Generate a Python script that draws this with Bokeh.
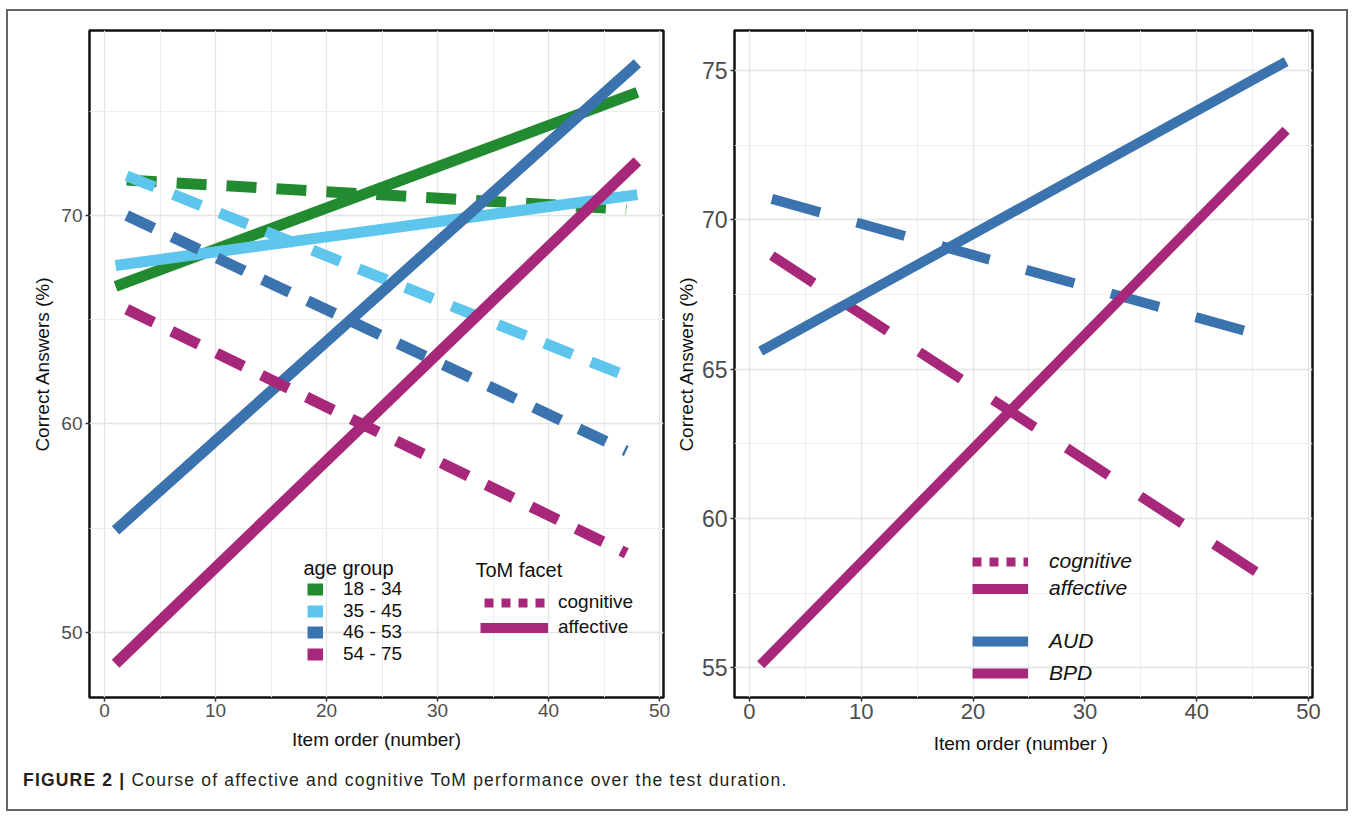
from bokeh.plotting import figure
from bokeh.models import Legend, LegendItem, FixedTicker, Div, Label, Range1d
from bokeh.layouts import row, column
from bokeh.embed import file_html
from bokeh.resources import INLINE

FONT = "Liberation Sans"

# ---------------- data: left panel (age group x ToM facet) ----------------
item_x_affective = [1, 48]
item_x_cognitive = [2, 47]
age_labels = ["18 - 34", "35 - 45", "46 - 53", "54 - 75"]
age_colors = ["#238B2F", "#5EC6EC", "#3B73AE", "#A7287A"]
aff_18_34 = [66.6, 75.9]
aff_35_45 = [67.6, 71.0]
aff_46_53 = [54.9, 77.3]
aff_54_75 = [48.5, 72.6]
cog_18_34 = [71.7, 70.3]
cog_35_45 = [71.9, 62.3]
cog_46_53 = [70.0, 58.7]
cog_54_75 = [65.5, 53.8]
facet_labels = ["cognitive", "affective"]

# ---------------- data: right panel (AUD / BPD x ToM facet) ----------------
group_labels = ["AUD", "BPD"]
group_colors = ["#3B73AE", "#A7287A"]
aff_AUD = [65.6, 75.3]
aff_BPD = [55.1, 73.0]
cog_AUD = [70.7, 66.0]
cog_BPD = [68.8, 57.8]

# ---------------- ticks ----------------
x_ticks = [0, 10, 20, 30, 40, 50]
x_minor = [5, 15, 25, 35, 45]
left_y_ticks = [50, 60, 70]
left_y_minor = [45, 55, 65, 75]
right_y_ticks = [55, 60, 65, 70, 75]
right_y_minor = [52.5, 57.5, 62.5, 67.5, 72.5]

MAGENTA = group_colors[1]

# page geometry: content of the framed box starts at (8, 11)
OX, OY = 8, 11


def make_panel(x_rng, y_rng, mbl, mbr, mbt, mbb, fw, fh, yt, ym,
               xtick_size, ytick_size, xlabel, ylabel, title_size, ylab_standoff, xlab_standoff):
    p = figure(frame_width=fw, frame_height=fh,
               x_range=Range1d(*x_rng), y_range=Range1d(*y_rng),
               min_border_left=mbl, min_border_right=mbr,
               min_border_top=mbt, min_border_bottom=mbb,
               output_backend="svg", toolbar_location=None)
    p.background_fill_color = "white"
    p.border_fill_color = "white"
    p.outline_line_color = "#111111"
    p.outline_line_width = 2.5
    p.outline_line_alpha = 1.0
    p.xaxis.ticker = FixedTicker(ticks=x_ticks, minor_ticks=x_minor)
    p.yaxis.ticker = FixedTicker(ticks=yt, minor_ticks=ym)
    p.xgrid.ticker = p.xaxis[0].ticker
    p.ygrid.ticker = p.yaxis[0].ticker
    for g in (p.xgrid, p.ygrid):
        g.grid_line_color = "#E4E4E4"
        g.grid_line_width = 1.3
        g.minor_grid_line_color = "#EEEEEE"
        g.minor_grid_line_width = 1.0
    for ax in (p.xaxis, p.yaxis):
        ax.axis_line_color = None
        ax.major_tick_line_color = "#333333"
        ax.major_tick_line_width = 1.5
        ax.major_tick_out = 4
        ax.major_tick_in = 0
        ax.minor_tick_line_color = None
        ax.major_label_text_font = FONT
        ax.major_label_text_color = "#4D4D4D"
        ax.axis_label_text_font = FONT
        ax.axis_label_text_font_style = "normal"
        ax.axis_label_text_color = "#111111"
        ax.axis_label_text_font_size = title_size
    p.xaxis.major_label_text_font_size = xtick_size
    p.yaxis.major_label_text_font_size = ytick_size
    p.xaxis.major_label_standoff = 2
    p.yaxis.major_label_standoff = 3
    p.xaxis.axis_label = xlabel
    p.yaxis.axis_label = ylabel
    p.xaxis.axis_label_standoff = xlab_standoff
    p.yaxis.axis_label_standoff = ylab_standoff
    return p


def add_legend(p, items, left_px, first_center, row_h, frame_left, frame_bottom,
               font_size, font_style, glyph_w, standoff):
    top = first_center - row_h / 2.0
    bottom = top + len(items) * row_h
    leg = Legend(items=items, location=(left_px - frame_left, frame_bottom - bottom),
                 orientation="vertical", padding=0, margin=0, spacing=0,
                 glyph_width=glyph_w, glyph_height=row_h, label_height=row_h,
                 label_standoff=standoff, label_text_font=FONT,
                 label_text_font_size=font_size, label_text_font_style=font_style,
                 label_text_color="#111111", click_policy="none",
                 border_line_color=None, background_fill_alpha=0)
    p.add_layout(leg)


# ======================= LEFT PANEL =======================
L_FL, L_FB = 89, 696   # frame left / bottom on page (for legend placement)
p1 = make_panel((-1.35, 50.35), (46.88, 78.87), L_FL - OX, 9, 29 - OY, 67, 574, 667,
                left_y_ticks, left_y_minor, "19px", "19px",
                "Item order (number)", "Correct Answers (%)", "19px", 5, 9)

left_aff = [aff_18_34, aff_35_45, aff_46_53, aff_54_75]
left_cog = [cog_18_34, cog_35_45, cog_46_53, cog_54_75]
for col, ya, yc in zip(age_colors, left_aff, left_cog):
    p1.line(item_x_cognitive, yc, line_color=col, line_width=11, line_dash="30 20")
    p1.line(item_x_affective, ya, line_color=col, line_width=11)

# age group legend (one row per legend so the rows can sit tight)
age_centers = [588, 609.5, 631, 652.5]
for lab, col, ya, cy in zip(age_labels, age_colors, left_aff, age_centers):
    key = p1.line(item_x_affective, ya, line_color=col, line_width=12, visible=False)
    add_legend(p1, [LegendItem(label=lab, renderers=[key])], 307, cy, 26, L_FL, L_FB,
               "19px", "normal", 16, 20)
p1.add_layout(Label(x=303 - L_FL, y=L_FB - 566, x_units="screen", y_units="screen",
                    text="age group", text_font=FONT, text_font_size="20px",
                    text_baseline="middle", text_align="left", text_color="#111111"))

# ToM facet legend
k_cog = p1.line(item_x_cognitive, cog_54_75, line_color=MAGENTA, line_width=9,
                line_dash="9 8", line_dash_offset=13, visible=False)
k_aff = p1.line(item_x_affective, aff_54_75, line_color=MAGENTA, line_width=10, visible=False)
add_legend(p1, [LegendItem(label=facet_labels[0], renderers=[k_cog]),
                LegendItem(label=facet_labels[1], renderers=[k_aff])],
           480, 601, 25, L_FL, L_FB, "19px", "normal", 68, 10)
p1.add_layout(Label(x=475 - L_FL, y=L_FB - 568, x_units="screen", y_units="screen",
                    text="ToM facet", text_font=FONT, text_font_size="20px",
                    text_baseline="middle", text_align="left", text_color="#111111"))

# ======================= RIGHT PANEL =======================
R_FL, R_FB = 733, 697
p2 = make_panel((-1.34, 50.36), (54.0, 76.34), R_FL - (OX + 664), 34, 30 - OY, 66, 578, 667,
                right_y_ticks, right_y_minor, "22px", "23px",
                "Item order  (number )", "Correct Answers (%)", "19px", 2, 11)

p2.line(item_x_cognitive, cog_AUD, line_color=group_colors[0], line_width=10, line_dash="50 38")
p2.line(item_x_cognitive, cog_BPD, line_color=group_colors[1], line_width=10, line_dash="50 38")
p2.line(item_x_affective, aff_AUD, line_color=group_colors[0], line_width=10)
p2.line(item_x_affective, aff_BPD, line_color=group_colors[1], line_width=10)

rk_cog = p2.line(item_x_cognitive, cog_BPD, line_color=MAGENTA, line_width=9,
                 line_dash="9 8", visible=False)
rk_aff = p2.line(item_x_affective, aff_BPD, line_color=MAGENTA, line_width=10, visible=False)
add_legend(p2, [LegendItem(label=facet_labels[0], renderers=[rk_cog]),
                LegendItem(label=facet_labels[1], renderers=[rk_aff])],
           971, 561, 27, R_FL, R_FB, "21px", "italic", 56, 21)
rk_aud = p2.line(item_x_affective, aff_AUD, line_color=group_colors[0], line_width=10, visible=False)
rk_bpd = p2.line(item_x_affective, aff_BPD, line_color=group_colors[1], line_width=10, visible=False)
add_legend(p2, [LegendItem(label=group_labels[0], renderers=[rk_aud]),
                LegendItem(label=group_labels[1], renderers=[rk_bpd])],
           971, 641, 32, R_FL, R_FB, "21px", "italic", 56, 21)

# ======================= CAPTION + FRAME =======================
caption = Div(
    text='<span style="font-weight:bold">FIGURE 2 |</span> Course of affective and cognitive '
         'ToM performance over the test duration.',
    width=1320, height=36,
    styles={"font-family": "'Liberation Sans', Arial, sans-serif", "font-size": "17.5px",
            "letter-spacing": "1.2px",
            "color": "#231F20", "padding-left": "10px", "padding-top": "0px"})

layout = column(row(p1, p2), caption,
                styles={"border": "2px solid #666666", "margin-left": "6px", "margin-top": "9px"})

open("out.html", "w").write(file_html(layout, INLINE))
